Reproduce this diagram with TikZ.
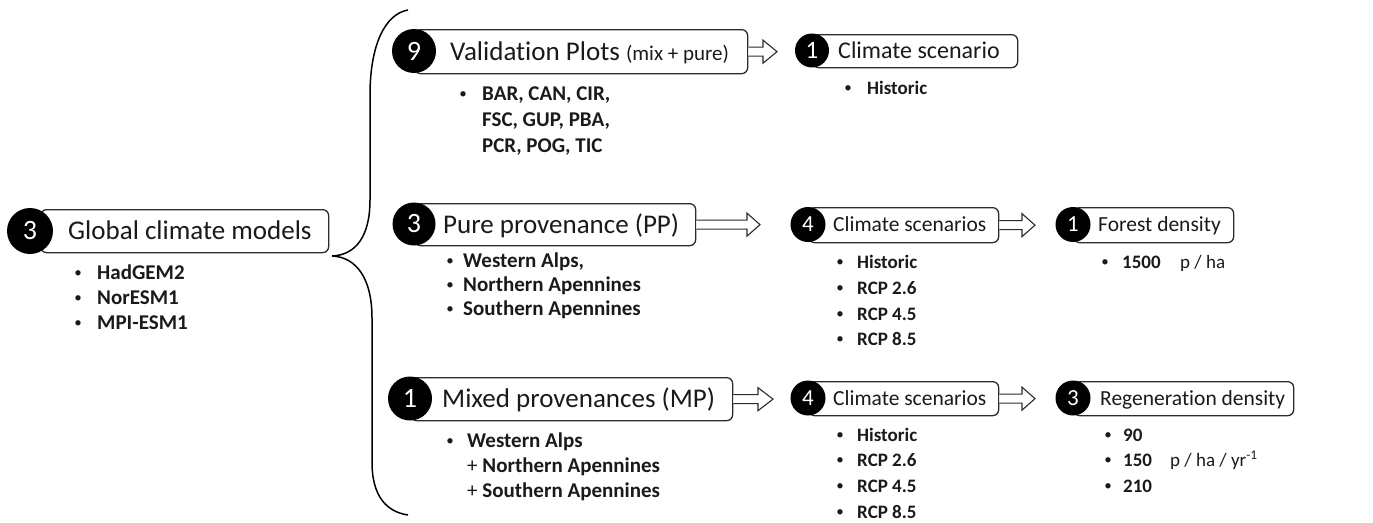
\documentclass[tikz,border=0pt]{standalone}
\usepackage{fontspec}
\setmainfont{Carlito}[Ligatures=NoCommon,RawFeature={-liga;-clig;-calt;-dlig}]
\usetikzlibrary{calc}
\definecolor{boxc}{HTML}{2B2B2B}
\definecolor{txtc}{HTML}{1A1A1A}
\newcommand\fs[1]{\fontsize{#1}{#1}\selectfont}
\newcommand\bitem[5]{%
  \node[bul] (#1b) at (#2,#4-1.5) {\textbullet};
  \node[itm] (#1) at (#3,#4) {#5};}
\newcommand\hollowarrow[3]{%
  \draw[harrow] let \p1=(#1.east), \p2=(#2) in
    (\x1,\y1+4.5pt) -- (\x2-#3pt,\y1+4.5pt) -- (\x2-#3pt,\y1+11.5pt) --
    (\x2,\y1) -- (\x2-#3pt,\y1-11.5pt) -- (\x2-#3pt,\y1-4.5pt) -- (\x1,\y1-4.5pt);}
\begin{document}
\begin{tikzpicture}[x=1pt,y=-1pt,
  box/.style={draw=boxc, line width=1.3pt, rounded corners=6pt, fill=white,
    inner sep=0pt, anchor=north west},
  numc/.style={circle, fill=black, text=white, inner sep=0pt},
  lbl/.style={anchor=base west, inner sep=0pt, text=txtc},
  bul/.style={anchor=base, inner sep=0pt, text=txtc, font=\fs{15}},
  itm/.style={anchor=base west, inner sep=0pt, text=txtc},
  harrow/.style={draw=boxc, line width=1.1pt, fill=white, line join=miter},
  brace/.style={draw=black, line width=1.5pt}
]
\useasboundingbox (0,0) rectangle (1373,522);

% boxes
\node[box, minimum width=288pt, minimum height=43pt] (gcm) at (40,209) {};
\node[box, minimum width=333pt, minimum height=44pt] (vp) at (414,29) {};
\node[box, minimum width=205pt, minimum height=33pt] (cs1) at (812,34) {};
\node[box, minimum width=281pt, minimum height=42pt] (pp) at (414,203) {};
\node[box, minimum width=190pt, minimum height=35pt] (cs2) at (808,207) {};
\node[box, minimum width=160pt, minimum height=35pt] (fd) at (1073,207) {};
\node[box, minimum width=322pt, minimum height=43pt] (mp) at (410,377) {};
\node[box, minimum width=190pt, minimum height=34pt] (cs3) at (808,381) {};
\node[box, minimum width=220pt, minimum height=34pt] (rd) at (1073,381) {};

% number circles
\node[numc, minimum size=46pt, font=\fs{28}] (gcmn) at (30,231) {3};
\node[numc, minimum size=44pt, font=\fs{28}] (vpn) at (414,51) {9};
\node[numc, minimum size=34pt, font=\fs{25}] (cs1n) at (812,50.5) {1};
\node[numc, minimum size=43pt, font=\fs{28}] (ppn) at (414,224) {3};
\node[numc, minimum size=35pt, font=\fs{23}] (cs2n) at (808,224.5) {4};
\node[numc, minimum size=35pt, font=\fs{23}] (fdn) at (1073,224.5) {1};
\node[numc, minimum size=44pt, font=\fs{28}] (mpn) at (410,398.5) {1};
\node[numc, minimum size=35pt, font=\fs{23}] (cs3n) at (808,398) {4};
\node[numc, minimum size=35pt, font=\fs{23}] (rdn) at (1073,398) {3};

% box labels
\node[lbl, font=\fs{27}] (gcmt) at (68,239.5) {Global climate models};
\node[lbl, font=\fs{27}] (vpt) at (450,60) {Validation Plots {\fs{21}(mix + pure)}};
\node[lbl, font=\fs{24}] (cs1t) at (838,58.5) {Climate scenario};
\node[lbl, font=\fs{27}] (ppt) at (443,233) {Pure provenance (PP)};
\node[lbl, font=\fs{21.5}] (cs2t) at (833,231.5) {Climate scenarios};
\node[lbl, font=\fs{21.5}] (fdt) at (1098,231.5) {Forest density};
\node[lbl, font=\fs{27}] (mpt) at (442,407.5) {Mixed provenances (MP)};
\node[lbl, font=\fs{21.5}] (cs3t) at (833,405) {Climate scenarios};
\node[lbl, font=\fs{21.5}] (rdt) at (1100,405) {Regeneration density};

% arrow tips
\coordinate (t1) at (777,51);
\coordinate (t2) at (760,224);
\coordinate (t3) at (773,398.5);
\coordinate (t4) at (1035,224.5);
\coordinate (t5) at (1035,398);
\hollowarrow{vp}{t1}{14}
\hollowarrow{pp}{t2}{13}
\hollowarrow{mp}{t3}{15}
\hollowarrow{cs2}{t4}{13}
\hollowarrow{cs3}{t5}{13}

% brace
\coordinate (bt) at (408,10);
\coordinate (bm) at (332,256);
\coordinate (bb) at (408,515);
\draw[brace] (bt) .. controls (385,14) and (370,45) .. (370,95) -- (370,200)
  .. controls (370,236) and (356,255) .. (bm)
  .. controls (356,257) and (372,278) .. (372,318) -- (372,462)
  .. controls (372,498) and (388,512) .. (bb);

% lists
\begin{scope}[itm/.append style={font=\fs{21}\bfseries}]
\bitem{g1}{78}{97}{279}{HadGEM2}
\bitem{g2}{78}{97}{304}{NorESM1}
\bitem{g3}{78}{97}{329}{MPI-ESM1}
\bitem{v1}{463}{482}{100}{BAR, CAN, CIR,}
\node[itm] (v2) at (482,126) {FSC, GUP, PBA,};
\node[itm] (v3) at (482,152) {PCR, POG, TIC};
\bitem{p1}{450}{463}{267}{Western Alps,}
\bitem{p2}{450}{463}{291}{Northern Apennines}
\bitem{p3}{450}{463}{315}{Southern Apennines}
\bitem{m1}{450}{467}{447}{Western Alps}
\node[itm] (m2) at (467,472) {{\mdseries+} Northern Apennines};
\node[itm] (m3) at (467,497) {{\mdseries+} Southern Apennines};
\end{scope}

\begin{scope}[itm/.append style={font=\fs{19}\bfseries}]
\bitem{c1}{848}{867}{94}{Historic}
\bitem{s1}{840}{857}{268}{Historic}
\bitem{s2}{840}{857}{294}{RCP 2.6}
\bitem{s3}{840}{857}{320}{RCP 4.5}
\bitem{s4}{840}{857}{345}{RCP 8.5}
\bitem{f1}{1105}{1122}{268}{1500}
\bitem{u1}{840}{857}{441}{Historic}
\bitem{u2}{840}{857}{466}{RCP 2.6}
\bitem{u3}{840}{857}{492}{RCP 4.5}
\bitem{u4}{840}{857}{518}{RCP 8.5}
\bitem{r1}{1108}{1123}{441}{90}
\bitem{r2}{1108}{1123}{466}{150}
\bitem{r3}{1108}{1123}{492}{210}
\end{scope}
\node[itm, font=\fs{19}] (fu) at (1180,268) {p / ha};
\node[itm, font=\fs{19}] (ru) at (1170,466) {p / ha / yr\textsuperscript{-1}};
\end{tikzpicture}
\end{document}
